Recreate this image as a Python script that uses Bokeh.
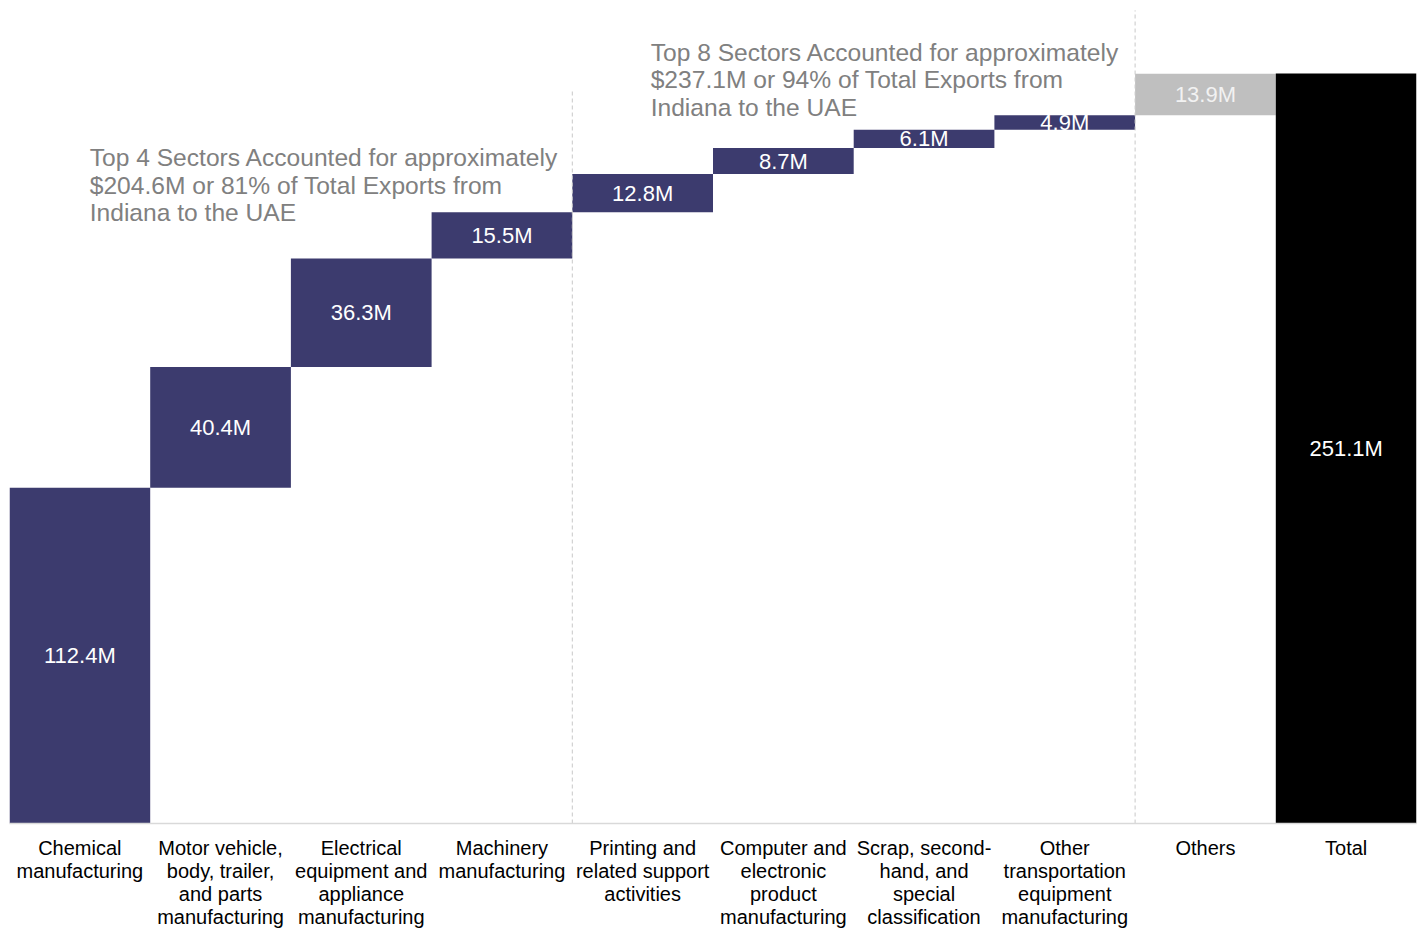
from bokeh.plotting import figure
from bokeh.models import Range1d, FixedTicker, ColumnDataSource
from bokeh.core.properties import value
from bokeh.embed import file_html
from bokeh.resources import INLINE

# ---- data ----
categories = [
    "Chemical\nmanufacturing",
    "Motor vehicle,\nbody, trailer,\nand parts\nmanufacturing",
    "Electrical\nequipment and\nappliance\nmanufacturing",
    "Machinery\nmanufacturing",
    "Printing and\nrelated support\nactivities",
    "Computer and\nelectronic\nproduct\nmanufacturing",
    "Scrap, second-\nhand, and\nspecial\nclassification",
    "Other\ntransportation\nequipment\nmanufacturing",
    "Others",
    "Total",
]
amounts = [112.4, 40.4, 36.3, 15.5, 12.8, 8.7, 6.1, 4.9, 13.9, 251.1]
kinds = ["sector"] * 8 + ["others", "total"]
value_labels = ["112.4M", "40.4M", "36.3M", "15.5M", "12.8M", "8.7M", "6.1M", "4.9M", "13.9M", "251.1M"]

note1 = ["Top 4 Sectors Accounted for approximately",
         "$204.6M or 81% of Total Exports from",
         "Indiana to the UAE"]
note2 = ["Top 8 Sectors Accounted for approximately",
         "$237.1M or 94% of Total Exports from",
         "Indiana to the UAE"]

# ---- layout constants ----
FRAME_W = 1407
FRAME_H = 823
Y_MAX = 275.5
PX_PER_UNIT = FRAME_H / Y_MAX

color_map = {"sector": "#3C3B6E", "others": "#BFBFBF", "total": "#000000"}
label_color_map = {"sector": "#FFFFFF", "others": "#F2F2F2", "total": "#FFFFFF"}

# waterfall geometry
bottoms, tops = [], []
running = 0.0
for a, k in zip(amounts, kinds):
    if k == "total":
        bottoms.append(0.0)
        tops.append(a)
    else:
        bottoms.append(running)
        running += a
        tops.append(running)

xs = [i + 0.5 for i in range(len(categories))]
src = ColumnDataSource(dict(
    x=xs, bottom=bottoms, top=tops,
    mid=[(b + t) / 2 for b, t in zip(bottoms, tops)],
    color=[color_map[k] for k in kinds],
    lcolor=[label_color_map[k] for k in kinds],
    label=value_labels,
))

p = figure(frame_width=FRAME_W, frame_height=FRAME_H, output_backend="svg", toolbar_location=None,
           x_range=Range1d(0, len(categories)), y_range=Range1d(0, Y_MAX),
           min_border_left=9, min_border_right=3, min_border_top=0, min_border_bottom=108)
p.outline_line_color = None
p.background_fill_color = "white"
p.border_fill_color = "white"
p.grid.visible = False
p.yaxis.visible = False

p.vbar(x="x", bottom="bottom", top="top", width=1.0, fill_color="color",
       line_color=None, source=src)

p.text(x="x", y="mid", text="label", source=src, text_color="lcolor",
       text_align="center", text_baseline="middle",
       text_font=value("Liberation Sans"), text_font_size="22px")

# dashed separators
p.segment(x0=[4, 8], y0=[0, 0], x1=[4, 8], y1=[245.4, 272.2],
          line_color="#C8C8C8", line_dash="4 3", line_width=1)

# annotations
LINE_GAP = 27.5 / PX_PER_UNIT
for lines, ax, ay in [(note1, 0.57, 222.8), (note2, 4.557, 258.1)]:
    p.text(x=[ax] * len(lines), y=[ay - i * LINE_GAP for i in range(len(lines))],
           text=lines, text_color="#808080", text_align="left", text_baseline="alphabetic",
           text_font=value("Liberation Sans"), text_font_size="24.6px")

ax = p.xaxis[0]
ax.ticker = FixedTicker(ticks=xs)
ax.major_label_overrides = {x: c for x, c in zip(xs, categories)}
ax.major_tick_line_color = None
ax.minor_tick_line_color = None
ax.axis_line_color = "#D9D9D9"
ax.axis_line_width = 1.5
ax.major_label_text_font = "Liberation Sans"
ax.major_label_text_font_size = "20px"
ax.major_label_text_color = "#000000"
ax.major_label_text_align = "center"
ax.major_label_text_line_height = 1.06
ax.major_label_standoff = 7

open("out.html", "w").write(file_html(p, INLINE))
